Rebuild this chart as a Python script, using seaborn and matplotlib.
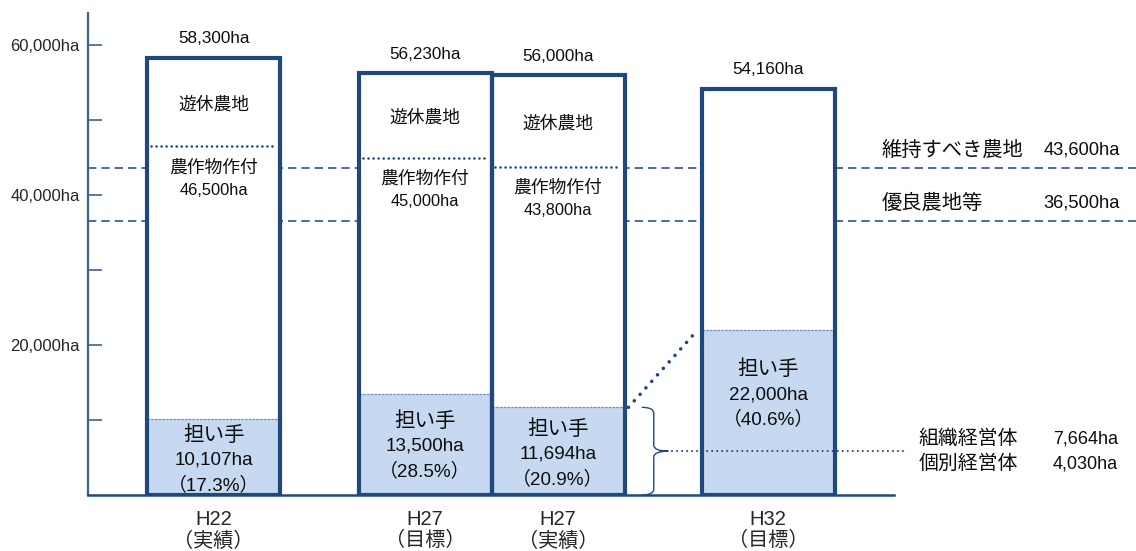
import numpy as np
import pandas as pd
import matplotlib
matplotlib.use("Agg")
import matplotlib.pyplot as plt
from matplotlib.path import Path
from matplotlib.patches import PathPatch
import seaborn as sns

# ---- data -------------------------------------------------------------
periods = ["H22", "H27", "H27", "H32"]
period_kinds = ["（実績）", "（目標）", "（実績）", "（目標）"]
total_area = [58300, 56230, 56000, 54160]          # 農地面積 (ha)
crop_area = [46500, 45000, 43800, None]            # 農作物作付 (ha)
leader_area = [10107, 13500, 11694, 22000]         # 担い手 (ha)
leader_share = [17.3, 28.5, 20.9, 40.6]            # 担い手の割合 (%)
ref_names = ["維持すべき農地", "優良農地等"]
ref_area = [43600, 36500]
org_names = ["組織経営体", "個別経営体"]
org_area = [7664, 4030]
y_tick_values = [10000, 20000, 30000, 40000, 50000, 60000]
y_tick_labels = ["", "20,000ha", "", "40,000ha", "", "60,000ha"]

# ---- layout -----------------------------------------------------------
bar_pos = [0.0, 1.59, 2.59, 4.17]
leader_text_shift = [-3, -2, -3, 18]   # px above the middle of the 担い手 block
PX = 0.72  # points per pixel at 100 dpi

EDGE = "#1f497d"
AXIS = "#3d6291"
FILL = "#c6d9f1"
DASH = "#2e5387"

sns.set_theme(style="white")
plt.rcParams["font.family"] = ["Liberation Sans", "Noto Sans CJK JP"]
plt.rcParams["text.color"] = "#0d0d0d"

fig = plt.figure(figsize=(11.36, 5.51), dpi=100)
ax = fig.add_axes([88 / 1136, 56 / 551, 1048 / 1136, 482 / 551])

df = pd.DataFrame({
    "pos": bar_pos,
    "total": total_area,
    "leader": leader_area,
})

# reference levels (dashed, behind the bars)
for v in ref_area:
    ax.axhline(v, color=DASH, lw=1.2, ls=(0, (5, 3)), zorder=1)

# white body of each bar
sns.barplot(data=df, x="pos", y="total", native_scale=True, width=1.0,
            color="white", saturation=1, edgecolor="none", linewidth=0,
            errorbar=None, ax=ax, zorder=2)
# 担い手 part
sns.barplot(data=df, x="pos", y="leader", native_scale=True, width=1.0,
            color=FILL, saturation=1, edgecolor="none", linewidth=0,
            errorbar=None, ax=ax, zorder=3)
# bar outlines
sns.barplot(data=df, x="pos", y="total", native_scale=True, width=1.0,
            fill=False, color=EDGE, saturation=1, linewidth=3.0,
            errorbar=None, ax=ax, zorder=5)
for p in ax.patches:
    if p.get_fill() is False:
        p.set_edgecolor(EDGE)
        p.set_joinstyle("round")

half = 0.5
for i, x in enumerate(bar_pos):
    # top of 担い手 section
    ax.plot([x - half, x + half], [leader_area[i]] * 2, color="#6f8fbd", lw=0.9,
            ls=(0, (2, 1)), zorder=4)
    # top of crop section
    if crop_area[i] is not None:
        ax.plot([x - half + 0.03, x + half - 0.03], [crop_area[i]] * 2, color=EDGE,
                lw=1.9, ls=(0, (0.01, 1.9)), dash_capstyle="round", zorder=4)

    # total label above bar
    ax.annotate(f"{total_area[i]:,}ha", (x, total_area[i]), xytext=(0, 19 * PX),
                textcoords="offset points", ha="center", va="center", fontsize=12.3)

    if crop_area[i] is not None:
        ax.annotate("遊休農地", (x, (total_area[i] + crop_area[i]) / 2),
                    xytext=(0, -3 * PX), textcoords="offset points",
                    ha="center", va="center", fontsize=12.8)
        ax.annotate("農作物作付", (x, crop_area[i]), xytext=(0, -22 * PX),
                    textcoords="offset points", ha="center", va="center", fontsize=12.8)
        ax.annotate(f"{crop_area[i]:,}ha", (x, crop_area[i]), xytext=(0, -44 * PX),
                    textcoords="offset points", ha="center", va="center", fontsize=11.8)

    yc = leader_area[i] / 2
    sh = leader_text_shift[i]
    ax.annotate("担い手", (x, yc), xytext=(0, (25 + sh) * PX), textcoords="offset points",
                ha="center", va="center", fontsize=14.8)
    ax.annotate(f"{leader_area[i]:,}ha", (x, yc), textcoords="offset points",
                xytext=(0, sh * PX), ha="center", va="center", fontsize=13.6)
    ax.annotate(f"（{leader_share[i]}%）", (x, yc), xytext=(0, (sh - 25) * PX),
                textcoords="offset points", ha="center", va="center", fontsize=13.6)

# dotted connector from H27 actual 担い手 to H32 target 担い手
ax.plot([bar_pos[2] + half + 0.03, bar_pos[3] - half - 0.03],
        [leader_area[2], leader_area[3]], color=EDGE, lw=2.6,
        ls=(0, (0.01, 2.4)), dash_capstyle="round", zorder=4)

# curly brace grouping the H27 actual 担い手 area
edge_x = bar_pos[2] + half
xa, xb, xc = edge_x + 0.13, edge_x + 0.22, edge_x + 0.33
ytop, ybot = leader_area[2], 0
ymid = (ytop + ybot) / 2
r = 800
verts = [(xa, ytop), (xb, ytop), (xb, ytop - r),
         (xb, ymid + r),
         (xb, ymid), (xc, ymid),
         (xb, ymid), (xb, ymid - r),
         (xb, ybot + r),
         (xb, ybot), (xa, ybot)]
codes = [Path.MOVETO, Path.CURVE3, Path.CURVE3,
         Path.LINETO,
         Path.CURVE3, Path.CURVE3,
         Path.CURVE3, Path.CURVE3,
         Path.LINETO,
         Path.CURVE3, Path.CURVE3]
ax.add_patch(PathPatch(Path(verts, codes), fill=False, edgecolor=EDGE, lw=1.0,
                       zorder=4))
ax.plot([xc + 0.03, 5.21], [ymid, ymid], color=EDGE, lw=1.5, ls=(0, (0.01, 2.4)),
        dash_capstyle="round", zorder=6)

for k, (name, val) in enumerate(zip(org_names, org_area)):
    off = (12.5 - 25 * k) * PX
    ax.annotate(name, (5.30, ymid), xytext=(0, off), textcoords="offset points",
                ha="left", va="center", fontsize=14.3)
    ax.annotate(f"{val:,}ha", (6.31, ymid), xytext=(0, off), textcoords="offset points",
                ha="left", va="center", fontsize=13)

for name, val in zip(ref_names, ref_area):
    ax.annotate(name, (5.02, val), xytext=(0, 18 * PX), textcoords="offset points",
                ha="left", va="center", fontsize=14.6)
    ax.annotate(f"{val:,}ha", (6.24, val), xytext=(0, 18 * PX), textcoords="offset points",
                ha="left", va="center", fontsize=13.2)

# ---- axes -------------------------------------------------------------
ax.set_xlim(-0.944, 6.936)
ax.set_ylim(0, 64270)
ax.set_yticks(y_tick_values, y_tick_labels, fontsize=12)
ax.set_xticks(bar_pos, [f"{p}\n{k}" for p, k in zip(periods, period_kinds)],
              fontsize=14.5, linespacing=1.12)
ax.tick_params(axis="y", left=True, direction="in", length=10, width=1.2,
               color=AXIS, pad=6)
ax.tick_params(axis="x", bottom=False, length=0, pad=11)
ax.set_xlabel("")
ax.set_ylabel("")
for s in ["top", "right"]:
    ax.spines[s].set_visible(False)
ax.spines["left"].set_color(AXIS)
ax.spines["left"].set_linewidth(1.6)
ax.spines["bottom"].set_color(EDGE)
ax.spines["bottom"].set_linewidth(1.8)
ax.spines["bottom"].set_bounds(-0.944, 5.12)
ax.grid(False)

fig.savefig("out.png", dpi=100)
